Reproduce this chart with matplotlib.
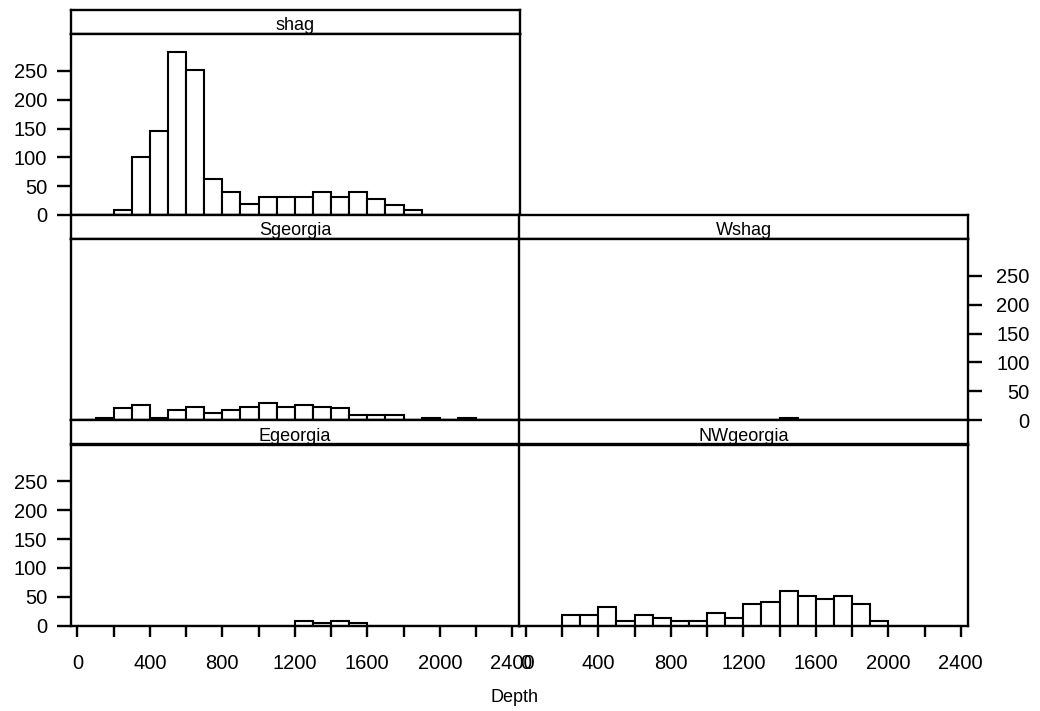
import numpy as np
import matplotlib.pyplot as plt

# histogramme de la profondeur, classes de 100
bin_left = np.arange(0, 2400, 100)

shag = [0, 0, 9, 100, 146, 283, 251, 63, 40, 19, 31, 31,
        31, 40, 32, 40, 27, 18, 9, 0, 0, 0, 0, 0]
sgeorgia = [0, 3, 21, 26, 3, 17, 22, 12, 17, 22, 30, 22,
            26, 22, 21, 9, 9, 9, 0, 3, 0, 3, 0, 0]
wshag = [0, 0, 0, 0, 0, 0, 0, 0, 0, 0, 0, 0,
         0, 0, 3, 0, 0, 0, 0, 0, 0, 0, 0, 0]
egeorgia = [0, 0, 0, 0, 0, 0, 0, 0, 0, 0, 0, 0,
            8, 4, 8, 4, 0, 0, 0, 0, 0, 0, 0, 0]
nwgeorgia = [0, 0, 18, 18, 32, 8, 18, 13, 8, 8, 22, 13,
             37, 41, 59, 51, 46, 51, 37, 8, 0, 0, 0, 0]

x_ticks = np.arange(0, 2401, 200)
x_labels = [str(v) if v % 400 == 0 else '' for v in x_ticks]
y_ticks = [0, 50, 100, 150, 200, 250]

plt.rcParams['font.family'] = ['Liberation Sans', 'DejaVu Sans']

W, H = 1040, 711
fig = plt.figure(figsize=(W / 100, H / 100), dpi=100, facecolor='white')

def box(x0, y0, w, h):
    # pixels (origine en haut a gauche) -> fraction de figure
    return [x0 / W, 1 - (y0 + h) / H, w / W, h / H]

col_x = [70.5, 519.0]
col_w = 449.0
row_y = [9.5, 214.5, 420.0]
strip_h = 24.5
plot_h = 181.0
lw = 1.7
fs_tick = 14.5

# (donnees, nom, colonne, ligne, axe y, axe x)
panels = [
    (shag, 'shag', 0, 0, 'left', False),
    (sgeorgia, 'Sgeorgia', 0, 1, None, False),
    (wshag, 'Wshag', 1, 1, 'right', False),
    (egeorgia, 'Egeorgia', 0, 2, 'left', True),
    (nwgeorgia, 'NWgeorgia', 1, 2, None, True),
]

for counts, name, c, r, yside, xaxis in panels:
    x0 = col_x[c]
    y0 = row_y[r]

    st = fig.add_axes(box(x0, y0, col_w, strip_h))
    st.set_xticks([])
    st.set_yticks([])
    for s in st.spines.values():
        s.set_linewidth(lw)
    st.text(0.5, 0.15, name, ha='center', va='baseline', fontsize=13,
            transform=st.transAxes)

    ax = fig.add_axes(box(x0, y0 + strip_h, col_w, plot_h))
    ax.bar(bin_left, counts, width=100, align='edge', facecolor='white',
           edgecolor='black', linewidth=1.5)
    ax.set_xlim(-38, 2440)
    ax.set_ylim(0, 314)
    for s in ax.spines.values():
        s.set_linewidth(lw)

    if xaxis:
        ax.set_xticks(x_ticks)
        ax.set_xticklabels(x_labels)
        ax.tick_params(axis='x', direction='out', length=8, width=lw,
                       pad=12.5, labelsize=fs_tick)
    else:
        ax.set_xticks([])

    if yside == 'left':
        ax.set_yticks(y_ticks)
        ax.tick_params(axis='y', direction='out', length=10, width=lw,
                       pad=6.8, labelsize=fs_tick)
    elif yside == 'right':
        ax.yaxis.tick_right()
        ax.set_yticks(y_ticks)
        ax.tick_params(axis='y', direction='out', length=10, width=lw,
                       pad=34.5, labelsize=fs_tick)
        for lab in ax.get_yticklabels():
            lab.set_horizontalalignment('right')
    else:
        ax.set_yticks([])

fig.text(515 / W, 1 - 702 / H, 'Depth', ha='center', va='baseline',
         fontsize=13)

fig.savefig('out.png', dpi=100, facecolor='white')
